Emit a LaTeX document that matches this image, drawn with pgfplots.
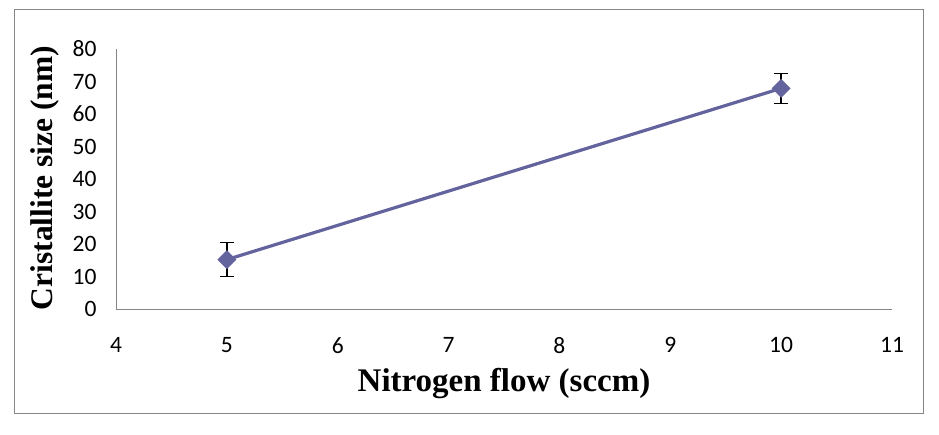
\documentclass[border=0pt]{standalone}
\usepackage{fontspec}
\setmainfont{Liberation Serif}
\newfontfamily\calibri{Carlito}
\usepackage{pgfplots}
\pgfplotsset{compat=1.18}
\definecolor{serie}{RGB}{99,99,158}
\definecolor{frame}{RGB}{134,134,134}
\begin{document}
\begin{tikzpicture}
\useasboundingbox (0,0) rectangle (939pt,434pt);
\draw[frame, line width=1pt] (14pt,21pt) rectangle (923pt,424pt);
\begin{axis}[
  at={(116pt,125pt)}, anchor=south west,
  scale only axis, width=776pt, height=260pt,
  xmin=4, xmax=11, ymin=0, ymax=80,
  xtick={4,5,...,11}, ytick={0,10,...,80},
  axis x line=bottom, axis y line=left,
  axis line style={frame, line width=1pt, -},
  major tick length=0pt,
  /pgf/number format/assume math mode=true,
  ticklabel style={font=\calibri\fontsize{23.5}{28}\selectfont, text=black},
  xticklabel style={yshift=-25pt},
  yticklabel style={xshift=-16pt},
  xlabel={\bfseries Nitrogen flow (sccm)},
  ylabel={\bfseries Cristallite size (nm)},
  xlabel style={font=\fontsize{33}{38}\selectfont, at={(axis description cs:0.5,-0.285)}, anchor=center},
  ylabel style={font=\fontsize{31.5}{36}\selectfont, at={(axis description cs:-0.0915,0.504)}, anchor=center, rotate=0},
  clip=false,
]
\addplot[serie, line width=3.2pt, mark=square*, mark size=6.4pt,
  mark options={rotate=45, fill=serie, draw=serie, line width=0.5pt},
  error bars/.cd, y dir=both, y explicit,
  error bar style={black, line width=1.4pt},
  error mark options={black, line width=1.4pt, mark size=7pt, rotate=90}]
coordinates {(5,15.2) +- (0,5.2) (10,67.9) +- (0,4.6)};
\end{axis}
\end{tikzpicture}
\end{document}
